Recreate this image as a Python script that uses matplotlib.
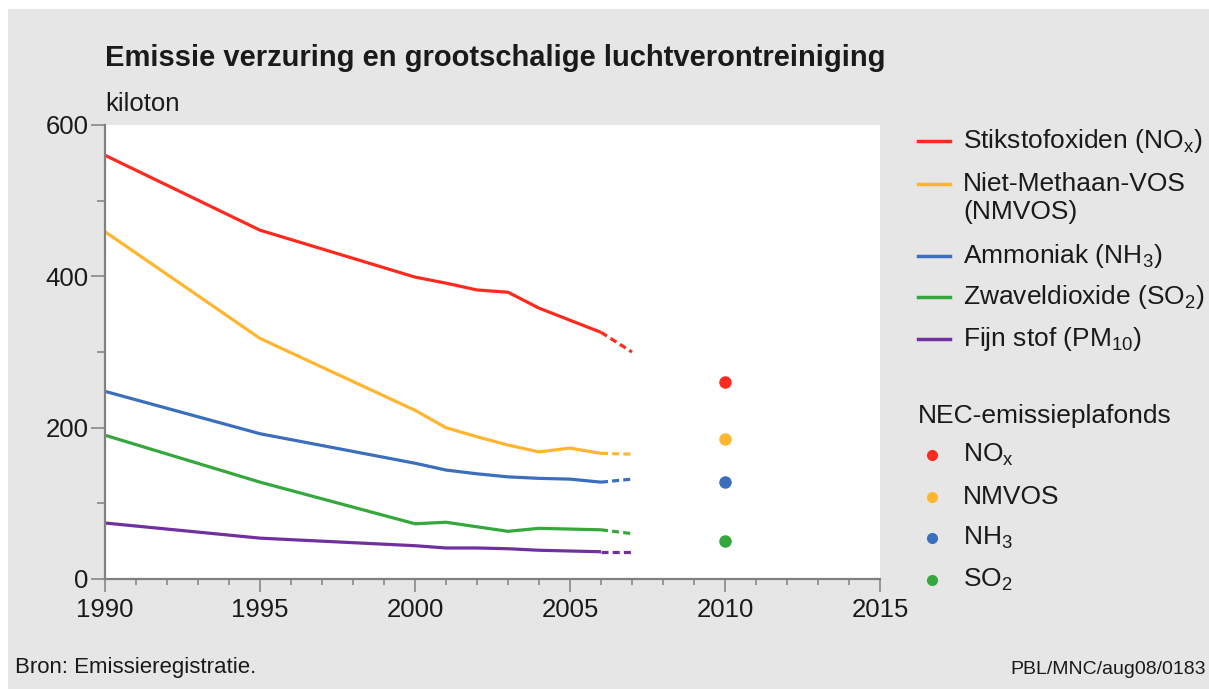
import matplotlib
matplotlib.use('Agg')
import matplotlib.pyplot as plt
from matplotlib.patches import Rectangle
from matplotlib.ticker import MultipleLocator

plt.rcParams['font.family'] = ['Liberation Sans', 'DejaVu Sans']
plt.rcParams['mathtext.fontset'] = 'custom'
plt.rcParams['mathtext.rm'] = 'Liberation Sans'
plt.rcParams['mathtext.it'] = 'Liberation Sans'

# data (kiloton), last segment 2006-2007 is drawn dashed
years_early = [1990, 1995, 2000]
years_late = [2001, 2002, 2003, 2004, 2005, 2006, 2007]
years = years_early + years_late

nox = [560, 461, 399, 391, 382, 379, 358, 342, 326, 300]
nmvos = [459, 318, 223, 200, 188, 177, 168, 173, 166, 165]
nh3 = [248, 192, 153, 144, 139, 135, 133, 132, 128, 132]
so2 = [190, 128, 73, 75, 69, 63, 67, 66, 65, 60]
pm10 = [74, 54, 44, 41, 41, 40, 38, 37, 36, 36]

nec_year = 2010
nec_nox, nec_nmvos, nec_nh3, nec_so2 = 260, 185, 128, 50

series_names = [['Stikstofoxiden (NO$_\\mathregular{x}$)'], ['Niet-Methaan-VOS', '(NMVOS)'],
                ['Ammoniak (NH$_\\mathregular{3}$)'], ['Zwaveldioxide (SO$_\\mathregular{2}$)'],
                ['Fijn stof (PM$_\\mathregular{10}$)']]
nec_names = ['NO$_\\mathregular{x}$', 'NMVOS', 'NH$_\\mathregular{3}$', 'SO$_\\mathregular{2}$']

colors = ['#ff2a1f', '#ffb52e', '#3c6ebe', '#34a83c', '#7030a0']

W, H = 1209, 689
fig = plt.figure(figsize=(W / 100, H / 100), dpi=100)
fig.patch.set_facecolor('white')
fig.add_artist(Rectangle((8 / W, 0), 1 - 8 / W, 1 - 9 / H, transform=fig.transFigure,
                         facecolor='#e6e6e6', edgecolor='none', zorder=0))

ax = fig.add_axes([105 / W, 1 - 579 / H, (880 - 105) / W, (579 - 125) / H])
ax.set_facecolor('white')

for vals, c in zip([nox, nmvos, nh3, so2, pm10], colors):
    ax.plot(years[:-1], vals[:-1], color=c, lw=2.3, solid_capstyle='butt')
    ax.plot(years[-2:], vals[-2:], color=c, lw=2.3, dashes=(2.2, 1.3))

for v, c in zip([nec_nox, nec_nmvos, nec_nh3, nec_so2], colors[:4]):
    ax.plot([nec_year], [v], 'o', color=c, ms=9, mec='none')

ax.set_xlim(1990, 2015)
ax.set_ylim(0, 600)
ax.xaxis.set_major_locator(MultipleLocator(5))
ax.xaxis.set_minor_locator(MultipleLocator(1))
ax.yaxis.set_major_locator(MultipleLocator(200))
ax.yaxis.set_minor_locator(MultipleLocator(100))
for s in ['top', 'right']:
    ax.spines[s].set_visible(False)
for s in ['left', 'bottom']:
    ax.spines[s].set_color('#808080')
    ax.spines[s].set_linewidth(1.6)
ax.tick_params(axis='x', which='major', length=9.5, width=1.1, color='#808080',
               labelsize=18.5, pad=4, labelcolor='#1a1a1a')
ax.tick_params(axis='x', which='minor', length=4.5, width=1.1, color='#808080')
ax.tick_params(axis='y', which='major', length=10, width=1.1, color='#808080',
               labelsize=18.5, pad=2, labelcolor='#1a1a1a')
ax.tick_params(axis='y', which='minor', length=6, width=1.1, color='#808080')

fig.text(105 / W, 1 - 58 / H, 'Emissie verzuring en grootschalige luchtverontreiniging',
         fontsize=21, fontweight='bold', color='#1a1a1a', va='center', ha='left')
fig.text(105 / W, 1 - 104 / H, 'kiloton', fontsize=18.5, color='#1a1a1a', va='center', ha='left')

# legend drawn in pixel coordinates
lg = fig.add_axes([0, 0, 1, 1], facecolor='none')
lg.set_xlim(0, W)
lg.set_ylim(H, 0)
lg.axis('off')

line_y = [141, 184, 256, 297, 339]
for ly, names, c in zip(line_y, series_names, colors):
    lg.plot([918, 950], [ly, ly], color=c, lw=2.5)
    for i, name in enumerate(names):
        lg.text(963, ly + 28 * i, name, fontsize=19, color='#1a1a1a', va='center', ha='left')

lg.text(918, 416, 'NEC-emissieplafonds', fontsize=19, color='#1a1a1a', va='center', ha='left')
for dy, name, c in zip([455, 497, 538, 580], nec_names, colors[:4]):
    lg.plot([932], [dy], 'o', color=c, ms=8, mec='none')
    lg.text(963, dy, name, fontsize=19, color='#1a1a1a', va='center', ha='left')

fig.text(15 / W, 1 - 668 / H, 'Bron: Emissieregistratie.', fontsize=16, color='#1a1a1a',
         va='center', ha='left')
fig.text(1 - 3 / W, 1 - 670 / H, 'PBL/MNC/aug08/0183', fontsize=14, color='#1a1a1a',
         va='center', ha='right')

fig.savefig('out.png', dpi=100)
